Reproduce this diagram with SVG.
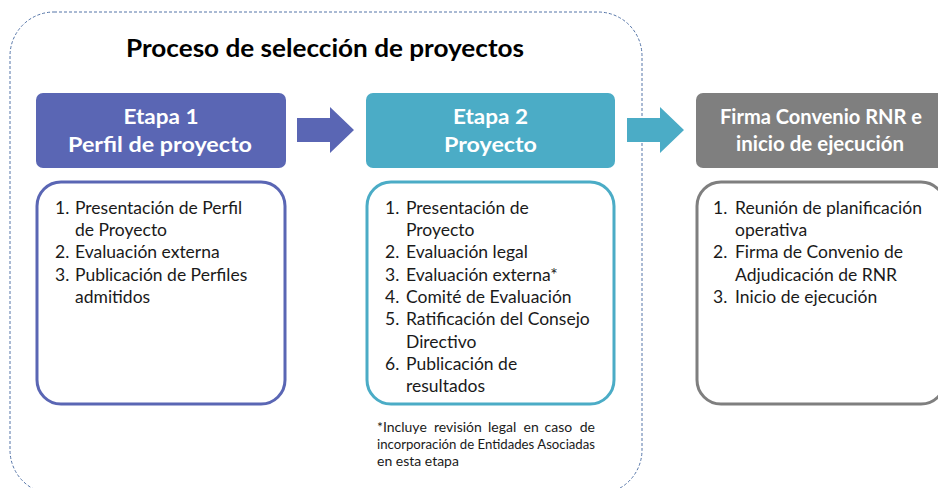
<svg xmlns="http://www.w3.org/2000/svg" width="938" height="488" viewBox="0 0 938 488">
<style>
text{font-family:Lato,"Open Sans","Liberation Sans",sans-serif}
.title{font-size:24px;font-weight:bold;fill:#000}
.hd{font-size:21px;font-weight:bold;fill:#fff;text-anchor:middle}
.li{font-size:17.5px;fill:#1a1a1a}
.fn{font-size:14px;fill:#1a1a1a}
.frame{fill:none;stroke:#5575a8;stroke-width:1;stroke-dasharray:3 2}
.box{fill:#fff;stroke-width:3}
</style>
<rect class="frame" x="10" y="12" width="632" height="482" rx="44" ry="44"/>
<text class="title" x="325" y="57" text-anchor="middle" textLength="398" lengthAdjust="spacingAndGlyphs">Proceso de selección de proyectos</text>

<g id="connectors">
<polygon points="297,118 330,118 330,107 354,130 330,153 330,142 297,142" fill="#5a66b4"/>
<polygon points="627,118 660,118 660,107 684,130 660,153 660,142 627,142" fill="#4bacc6"/>
</g>

<g id="etapa1">
<rect x="36" y="93" width="250" height="75" rx="7" fill="#5a66b4"/>
<text class="hd" x="161" y="124" textLength="75" lengthAdjust="spacingAndGlyphs">Etapa 1</text>
<text class="hd" x="160" y="152" textLength="184" lengthAdjust="spacingAndGlyphs">Perfil de proyecto</text>
<rect class="box" x="37" y="182" width="248" height="222" rx="24" stroke="#5a66b4"/>
<text class="li" x="55" y="214">1.</text><text class="li" x="75" y="214">Presentación de Perfil</text>
<text class="li" x="75" y="236">de Proyecto</text>
<text class="li" x="55" y="258">2.</text><text class="li" x="75" y="258">Evaluación externa</text>
<text class="li" x="55" y="281">3.</text><text class="li" x="75" y="281">Publicación de Perfiles</text>
<text class="li" x="75" y="303">admitidos</text>
</g>

<g id="etapa2">
<rect x="366" y="93" width="249" height="75" rx="7" fill="#4bacc6"/>
<text class="hd" x="490.5" y="124" textLength="75" lengthAdjust="spacingAndGlyphs">Etapa 2</text>
<text class="hd" x="490.5" y="152" textLength="93" lengthAdjust="spacingAndGlyphs">Proyecto</text>
<rect class="box" x="367" y="182" width="247" height="222" rx="24" stroke="#4bacc6"/>
<text class="li" x="385" y="214">1.</text><text class="li" x="406" y="214">Presentación de</text>
<text class="li" x="406" y="236">Proyecto</text>
<text class="li" x="385" y="258">2.</text><text class="li" x="406" y="258">Evaluación legal</text>
<text class="li" x="385" y="281">3.</text><text class="li" x="406" y="281">Evaluación externa*</text>
<text class="li" x="385" y="303">4.</text><text class="li" x="406" y="303">Comité de Evaluación</text>
<text class="li" x="385" y="325">5.</text><text class="li" x="406" y="325">Ratificación del Consejo</text>
<text class="li" x="406" y="348">Directivo</text>
<text class="li" x="385" y="370">6.</text><text class="li" x="406" y="370">Publicación de</text>
<text class="li" x="406" y="392">resultados</text>
</g>

<g id="footnote">
<text class="fn" x="377" y="432">*Incluye</text>
<text class="fn" x="434" y="432">revisión</text>
<text class="fn" x="488" y="432">legal</text>
<text class="fn" x="523.5" y="432">en</text>
<text class="fn" x="544.5" y="432">caso</text>
<text class="fn" x="595" y="432" text-anchor="end">de</text>
<text class="fn" x="377" y="449" textLength="218" lengthAdjust="spacingAndGlyphs">incorporación de Entidades Asociadas</text>
<text class="fn" x="377" y="466">en esta etapa</text>
</g>

<g id="firma">
<rect x="696" y="93" width="250" height="75" rx="7" fill="#7f7f7f"/>
<text class="hd" x="821" y="124" textLength="202" lengthAdjust="spacingAndGlyphs">Firma Convenio RNR e</text>
<text class="hd" x="820" y="151" textLength="168" lengthAdjust="spacingAndGlyphs">inicio de ejecución</text>
<rect class="box" x="697" y="182" width="248" height="222" rx="24" stroke="#7f7f7f"/>
<text class="li" x="713" y="214">1.</text><text class="li" x="735" y="214">Reunión de planificación</text>
<text class="li" x="735" y="236">operativa</text>
<text class="li" x="713" y="258">2.</text><text class="li" x="735" y="258">Firma de Convenio de</text>
<text class="li" x="735" y="281">Adjudicación de RNR</text>
<text class="li" x="713" y="303">3.</text><text class="li" x="735" y="303">Inicio de ejecución</text>
</g>
</svg>
